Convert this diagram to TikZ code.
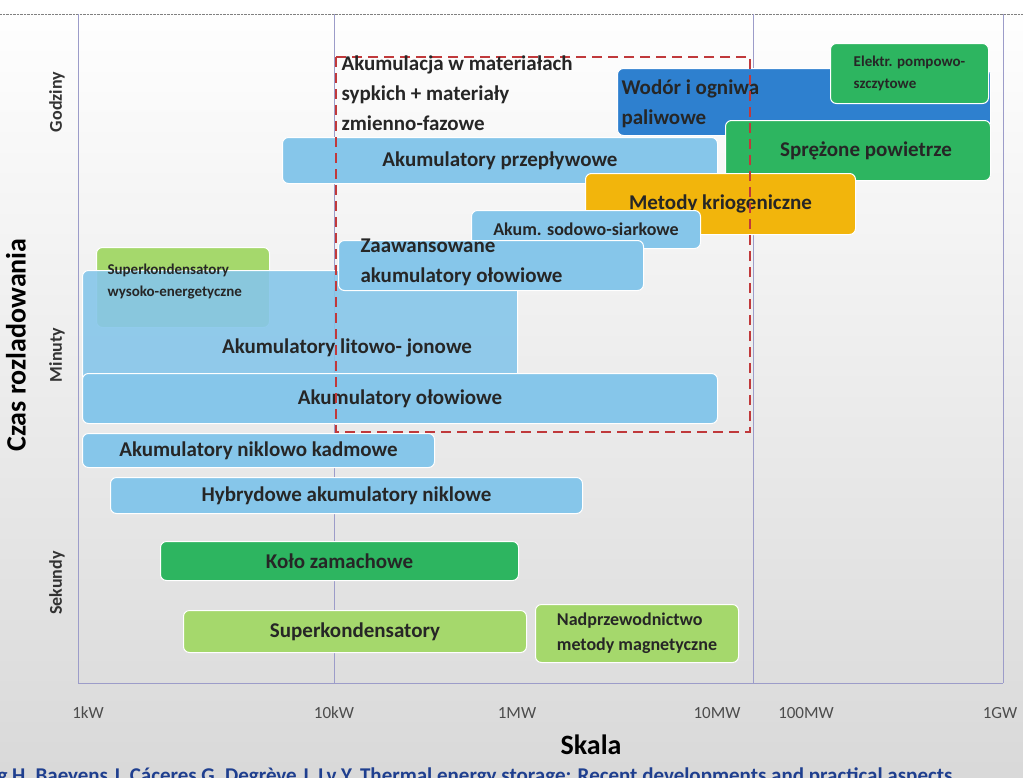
\documentclass[tikz,border=0pt]{standalone}
\usepackage{fontspec}
\setmainfont{Carlito}
\usetikzlibrary{positioning,shadows}
\definecolor{lblue}{HTML}{86C6EA}
\definecolor{dblue}{HTML}{2E80CF}
\definecolor{mgreen}{HTML}{2DB560}
\definecolor{lgreen}{HTML}{A5D86C}
\definecolor{korange}{HTML}{F2B50C}
\definecolor{kred}{HTML}{C0393B}
\definecolor{cite}{HTML}{1F3F8F}
\newcommand{\bigf}{\fontsize{21}{30}\selectfont\bfseries}
\newcommand{\medf}{\fontsize{18}{25}\selectfont\bfseries}
\newcommand{\smlf}{\fontsize{15}{22}\selectfont\bfseries}
\begin{document}
\begin{tikzpicture}[x=1pt,y=-1pt,
    bar/.style={rounded corners=6pt, draw=white, line width=1pt, anchor=north west, inner sep=0pt, font=\bigf, text=black!85},
    gridline/.style={draw=blue!30!gray!60, line width=0.8pt},
    tick/.style={font=\fontsize{17}{20}\selectfont, text=black!70},
    axlab/.style={rotate=90, font=\fontsize{18}{20}\selectfont\bfseries, text=black!80}]
  \pgfmathsetmacro{\w}{1023}
  \pgfmathsetmacro{\h}{777}
  \useasboundingbox (0,0) rectangle (\w,\h);
  \shade[top color=white, bottom color=black!15] (0,0) rectangle (\w,\h);
  \draw[black!50, densely dotted] (0,14) -- (\w,14);

  %% grid
  \foreach \gx in {78,334,753,1003}
    \draw[gridline] (\gx,14) -- (\gx,683);
  \draw[gridline] (78,683) -- (1003,683);

  %% bars
  \node[bar, fill=lgreen, minimum width=173pt, minimum height=80pt] (superHE) at (96,247) {};
  \node[bar, fill=lblue, fill opacity=0.9, minimum width=435pt, minimum height=120pt] (litJon) at (82,270) {};
  \node[font=\smlf, align=left, text=black!85, anchor=north west] (superHEtxt) at (104,260) {Superkondensatory\\wysoko-energetyczne};
  \node[font=\bigf, text=black!85] (litJontxt) at (347,348) {Akumulatory litowo- jonowe};
  \node[bar, fill=dblue, minimum width=373pt, minimum height=67pt] (wodor) at (617,68) {};
  \node[font=\bigf, align=left, text=black!85, anchor=north west] (wodortxt) at (618,76) {Wodór i ogniwa\\paliwowe};
  \node[bar, fill=mgreen, minimum width=158pt, minimum height=60pt, font=\smlf, align=left] (pompowe) at (830,43) {Elektr. pompowo-\\szczytowe};
  \node[bar, fill=mgreen, minimum width=265pt, minimum height=60pt] (powietrze) at (725,120) {\hspace*{16pt}Sprężone powietrze};
  \node[bar, fill=lblue, minimum width=435pt, minimum height=46pt] (przeplyw) at (282,137) {Akumulatory przepływowe};
  \node[bar, fill=korange, minimum width=270pt, minimum height=61pt] (kriogen) at (585,173) {Metody kriogeniczne};
  \node[bar, fill=lblue, minimum width=229pt, minimum height=38pt, font=\medf] (sodowe) at (471,210) {Akum. sodowo-siarkowe};
  \node[bar, fill=lblue, minimum width=305pt, minimum height=50pt] (zaaw) at (338,240) {};
  \node[font=\bigf, align=left, text=black!85, anchor=north west] (zaawtxt) at (357,235) {Zaawansowane\\akumulatory ołowiowe};
  \node[bar, fill=lblue, minimum width=635pt, minimum height=50pt] (olow) at (82,373) {Akumulatory ołowiowe};
  \node[bar, fill=lblue, minimum width=352pt, minimum height=34pt] (nikkad) at (82,433) {Akumulatory niklowo kadmowe};
  \node[bar, fill=lblue, minimum width=472pt, minimum height=36pt] (hybryd) at (110,477) {Hybrydowe akumulatory niklowe};
  \node[bar, fill=mgreen, minimum width=358pt, minimum height=39pt] (kolo) at (160,541) {Koło zamachowe};
  \node[bar, fill=lgreen, minimum width=343pt, minimum height=42pt] (superk) at (183,610) {Superkondensatory};
  \node[bar, fill=lgreen, minimum width=203pt, minimum height=58pt, font=\medf, align=left] (nadprz) at (535,604) {Nadprzewodnictwo\\metody magnetyczne};

  %% dashed region
  \draw[kred, line width=2.5pt, dash pattern=on 10pt off 6pt] (336,57) rectangle (750,432);
  \node[font=\bigf, align=left, text=black!85, anchor=north west] (akum) at (338,52) {Akumulacja w materiałach\\sypkich + materiały\\zmienno-fazowe};

  %% axes
  \node[axlab] (godz) at (57,102) {Godziny};
  \node[axlab] (min) at (57,355) {Minuty};
  \node[axlab] (sek) at (57,583) {Sekundy};
  \node[rotate=90, font=\fontsize{28}{30}\selectfont\bfseries] (czas) at (16,345) {Czas rozladowania};
  \node[tick] (t1) at (88,713) {1kW};
  \node[tick] (t2) at (334,713) {10kW};
  \node[tick] (t3) at (517,713) {1MW};
  \node[tick] (t4) at (717,713) {10MW};
  \node[tick] (t5) at (806,713) {100MW};
  \node[tick] (t6) at (1000,713) {1GW};
  \node[font=\fontsize{28}{30}\selectfont\bfseries] (skala) at (591,745) {Skala};
  \node[font=\fontsize{21}{24}\selectfont\bfseries, text=cite, anchor=west] (zrodlo) at (-6,777) {g H, Baeyens J, Cáceres G, Degrève J, Lv Y. Thermal energy storage: Recent developments and practical aspects};
\end{tikzpicture}
\end{document}
